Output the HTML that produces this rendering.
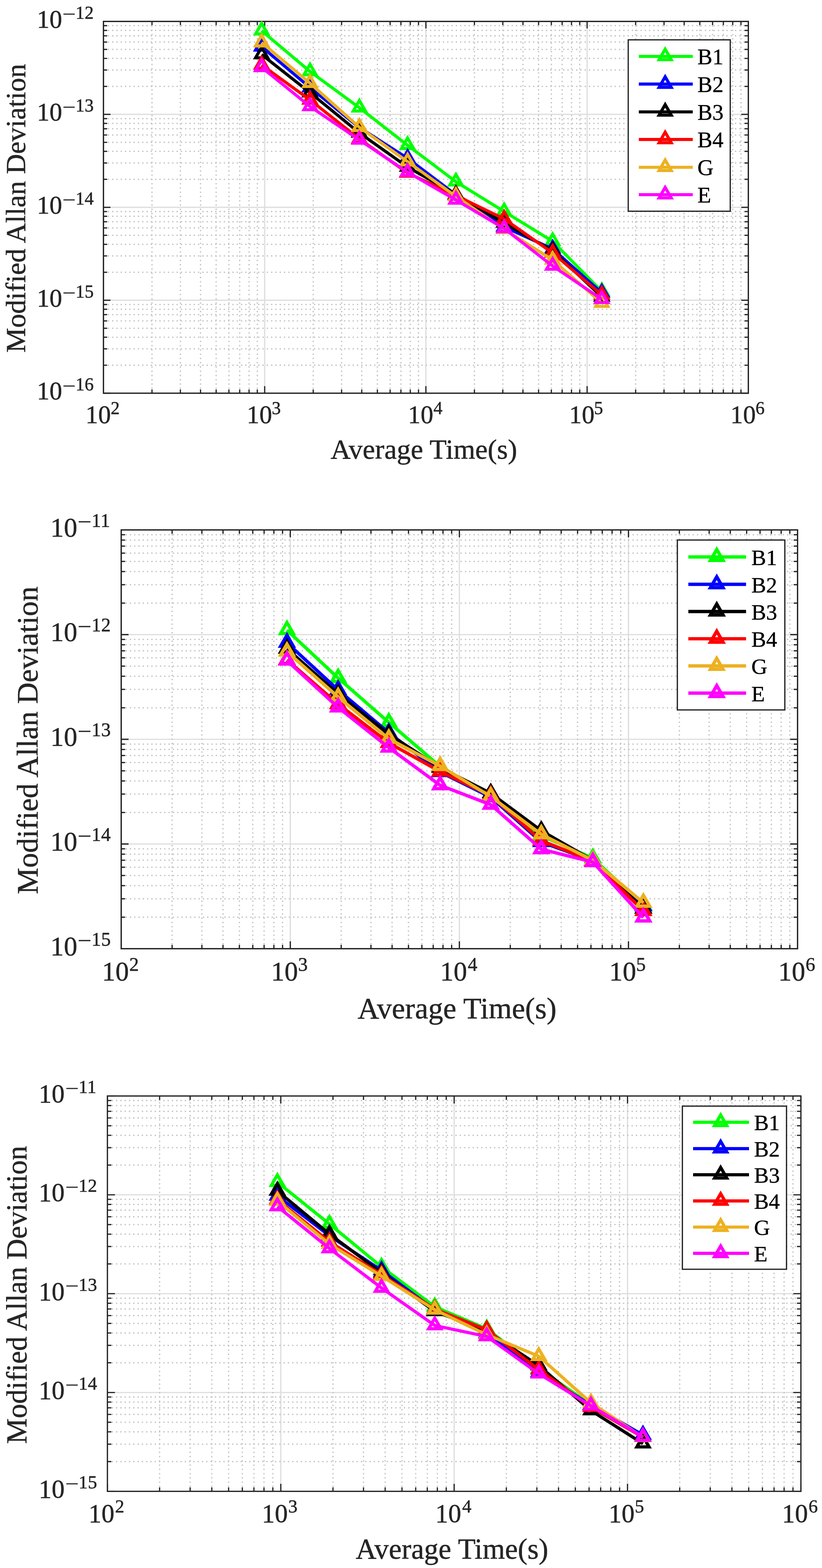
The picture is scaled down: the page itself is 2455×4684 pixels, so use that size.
<!DOCTYPE html>
<html><head><meta charset="utf-8"><title>Modified Allan Deviation</title>
<style>html,body{margin:0;padding:0;background:#fff;}svg{display:block;}</style>
</head><body>
<svg width="2455" height="4684" viewBox="0 0 2455 4684" font-family="'Liberation Serif', 'Times New Roman', serif" stroke-linejoin="miter" stroke-miterlimit="10">
<rect width="2455" height="4684" fill="#fff"/>
<path d="M790.5 1174.6V64M1272 1174.6V64M1753.5 1174.6V64M309 896.95H2235M309 619.3H2235M309 341.65H2235" stroke="#dedede" stroke-width="3.7" fill="none"/>
<path d="M453.95 1174.6V64M538.73 1174.6V64M598.89 1174.6V64M645.55 1174.6V64M683.68 1174.6V64M715.91 1174.6V64M743.84 1174.6V64M768.47 1174.6V64M935.45 1174.6V64M1020.23 1174.6V64M1080.39 1174.6V64M1127.05 1174.6V64M1165.18 1174.6V64M1197.41 1174.6V64M1225.34 1174.6V64M1249.97 1174.6V64M1416.95 1174.6V64M1501.73 1174.6V64M1561.89 1174.6V64M1608.55 1174.6V64M1646.68 1174.6V64M1678.91 1174.6V64M1706.84 1174.6V64M1731.47 1174.6V64M1898.45 1174.6V64M1983.23 1174.6V64M2043.39 1174.6V64M2090.05 1174.6V64M2128.18 1174.6V64M2160.41 1174.6V64M2188.34 1174.6V64M2212.97 1174.6V64" stroke="#c3c3c3" stroke-width="3.8" stroke-dasharray="3.9 8.83" fill="none"/>
<path d="M309 1091.02H2235M309 1042.13H2235M309 1007.44H2235M309 980.53H2235M309 958.55H2235M309 939.96H2235M309 923.86H2235M309 909.65H2235M309 813.37H2235M309 764.48H2235M309 729.79H2235M309 702.88H2235M309 680.9H2235M309 662.31H2235M309 646.21H2235M309 632H2235M309 535.72H2235M309 486.83H2235M309 452.14H2235M309 425.23H2235M309 403.25H2235M309 384.66H2235M309 368.56H2235M309 354.35H2235M309 258.07H2235M309 209.18H2235M309 174.49H2235M309 147.58H2235M309 125.6H2235M309 107.01H2235M309 90.91H2235M309 76.7H2235" stroke="#c3c3c3" stroke-width="3.8" stroke-dasharray="3.9 8.93" fill="none"/>
<path d="M309 1174.6v-21M309 64v21M790.5 1174.6v-21M790.5 64v21M1272 1174.6v-21M1272 64v21M1753.5 1174.6v-21M1753.5 64v21M2235 1174.6v-21M2235 64v21M453.95 1174.6v-11M453.95 64v11M538.73 1174.6v-11M538.73 64v11M598.89 1174.6v-11M598.89 64v11M645.55 1174.6v-11M645.55 64v11M683.68 1174.6v-11M683.68 64v11M715.91 1174.6v-11M715.91 64v11M743.84 1174.6v-11M743.84 64v11M768.47 1174.6v-11M768.47 64v11M935.45 1174.6v-11M935.45 64v11M1020.23 1174.6v-11M1020.23 64v11M1080.39 1174.6v-11M1080.39 64v11M1127.05 1174.6v-11M1127.05 64v11M1165.18 1174.6v-11M1165.18 64v11M1197.41 1174.6v-11M1197.41 64v11M1225.34 1174.6v-11M1225.34 64v11M1249.97 1174.6v-11M1249.97 64v11M1416.95 1174.6v-11M1416.95 64v11M1501.73 1174.6v-11M1501.73 64v11M1561.89 1174.6v-11M1561.89 64v11M1608.55 1174.6v-11M1608.55 64v11M1646.68 1174.6v-11M1646.68 64v11M1678.91 1174.6v-11M1678.91 64v11M1706.84 1174.6v-11M1706.84 64v11M1731.47 1174.6v-11M1731.47 64v11M1898.45 1174.6v-11M1898.45 64v11M1983.23 1174.6v-11M1983.23 64v11M2043.39 1174.6v-11M2043.39 64v11M2090.05 1174.6v-11M2090.05 64v11M2128.18 1174.6v-11M2128.18 64v11M2160.41 1174.6v-11M2160.41 64v11M2188.34 1174.6v-11M2188.34 64v11M2212.97 1174.6v-11M2212.97 64v11M309 1174.6h21M2235 1174.6h-21M309 896.95h21M2235 896.95h-21M309 619.3h21M2235 619.3h-21M309 341.65h21M2235 341.65h-21M309 64h21M2235 64h-21M309 1091.02h11M2235 1091.02h-11M309 1042.13h11M2235 1042.13h-11M309 1007.44h11M2235 1007.44h-11M309 980.53h11M2235 980.53h-11M309 958.55h11M2235 958.55h-11M309 939.96h11M2235 939.96h-11M309 923.86h11M2235 923.86h-11M309 909.65h11M2235 909.65h-11M309 813.37h11M2235 813.37h-11M309 764.48h11M2235 764.48h-11M309 729.79h11M2235 729.79h-11M309 702.88h11M2235 702.88h-11M309 680.9h11M2235 680.9h-11M309 662.31h11M2235 662.31h-11M309 646.21h11M2235 646.21h-11M309 632h11M2235 632h-11M309 535.72h11M2235 535.72h-11M309 486.83h11M2235 486.83h-11M309 452.14h11M2235 452.14h-11M309 425.23h11M2235 425.23h-11M309 403.25h11M2235 403.25h-11M309 384.66h11M2235 384.66h-11M309 368.56h11M2235 368.56h-11M309 354.35h11M2235 354.35h-11M309 258.07h11M2235 258.07h-11M309 209.18h11M2235 209.18h-11M309 174.49h11M2235 174.49h-11M309 147.58h11M2235 147.58h-11M309 125.6h11M2235 125.6h-11M309 107.01h11M2235 107.01h-11M309 90.91h11M2235 90.91h-11M309 76.7h11M2235 76.7h-11" stroke="#262626" stroke-width="3.7" fill="none"/>
<rect x="309" y="64" width="1926" height="1110.6" stroke="#262626" stroke-width="4" fill="none"/>
<g fill="#262626" stroke="#262626" stroke-width="0.8" stroke-linejoin="round"><text x="109.88" y="1193.4" font-size="75.8">10</text><text transform="translate(186.49 1170.76) scale(1.295 1)" font-size="54.2">&#8722;</text><text x="225.62" y="1166.3" font-size="54.2">16</text><text x="109.88" y="915.75" font-size="75.8">10</text><text transform="translate(186.49 893.11) scale(1.295 1)" font-size="54.2">&#8722;</text><text x="225.62" y="888.65" font-size="54.2">15</text><text x="109.88" y="638.1" font-size="75.8">10</text><text transform="translate(186.49 615.46) scale(1.295 1)" font-size="54.2">&#8722;</text><text x="225.62" y="611" font-size="54.2">14</text><text x="109.88" y="360.45" font-size="75.8">10</text><text transform="translate(186.49 337.81) scale(1.295 1)" font-size="54.2">&#8722;</text><text x="225.62" y="333.35" font-size="54.2">13</text><text x="109.88" y="82.8" font-size="75.8">10</text><text transform="translate(186.49 60.16) scale(1.295 1)" font-size="54.2">&#8722;</text><text x="225.62" y="55.7" font-size="54.2">12</text><text x="255.28" y="1264.3" font-size="75.8">10</text><text x="330.53" y="1237.1" font-size="54.2">2</text><text x="736.78" y="1264.3" font-size="75.8">10</text><text x="811.49" y="1237.1" font-size="54.2">3</text><text x="1218.28" y="1264.3" font-size="75.8">10</text><text x="1294.62" y="1237.1" font-size="54.2">4</text><text x="1699.78" y="1264.3" font-size="75.8">10</text><text x="1773.95" y="1237.1" font-size="54.2">5</text><text x="2181.28" y="1264.3" font-size="75.8">10</text><text x="2256.53" y="1237.1" font-size="54.2">6</text><text x="987.16" y="1369.6" font-size="83.5">Average Time(s)</text><text transform="translate(75 1053.41) rotate(-90)" font-size="83.5">Modified Allan Deviation</text></g>
<g stroke="#00ff00" stroke-width="9.1" fill="none"><polyline points="781.4,91.7 925.9,213.6 1073.3,321.8 1217.2,433.8 1361.6,542.9 1505.7,631.8 1650.5,720.9 1797.4,870.7"/><polygon points="781.4,69.93 763.18,101.48 799.62,101.48"/><polygon points="925.9,191.83 907.68,223.38 944.12,223.38"/><polygon points="1073.3,300.03 1055.08,331.58 1091.52,331.58"/><polygon points="1217.2,412.03 1198.98,443.58 1235.42,443.58"/><polygon points="1361.6,521.13 1343.38,552.68 1379.82,552.68"/><polygon points="1505.7,610.03 1487.48,641.58 1523.92,641.58"/><polygon points="1650.5,699.13 1632.28,730.68 1668.72,730.68"/><polygon points="1797.4,848.93 1779.18,880.48 1815.62,880.48"/></g>
<g stroke="#0000ff" stroke-width="9.1" fill="none"><polyline points="781.4,139.8 925.9,261.7 1073.3,381 1217.2,472.7 1361.6,582 1505.7,678 1650.5,743.5 1797.4,874.8"/><polygon points="781.4,118.03 763.18,149.58 799.62,149.58"/><polygon points="925.9,239.93 907.68,271.48 944.12,271.48"/><polygon points="1073.3,359.23 1055.08,390.78 1091.52,390.78"/><polygon points="1217.2,450.93 1198.98,482.48 1235.42,482.48"/><polygon points="1361.6,560.23 1343.38,591.78 1379.82,591.78"/><polygon points="1505.7,656.23 1487.48,687.78 1523.92,687.78"/><polygon points="1650.5,721.73 1632.28,753.28 1668.72,753.28"/><polygon points="1797.4,853.03 1779.18,884.58 1815.62,884.58"/></g>
<g stroke="#000000" stroke-width="9.1" fill="none"><polyline points="781.4,162.9 925.9,276.8 1073.3,397 1217.2,499 1361.6,581 1505.7,666 1650.5,749.5 1797.4,886.8"/><polygon points="781.4,141.13 763.18,172.68 799.62,172.68"/><polygon points="925.9,255.03 907.68,286.58 944.12,286.58"/><polygon points="1073.3,375.23 1055.08,406.78 1091.52,406.78"/><polygon points="1217.2,477.23 1198.98,508.78 1235.42,508.78"/><polygon points="1361.6,559.23 1343.38,590.78 1379.82,590.78"/><polygon points="1505.7,644.23 1487.48,675.78 1523.92,675.78"/><polygon points="1650.5,727.73 1632.28,759.28 1668.72,759.28"/><polygon points="1797.4,865.03 1779.18,896.58 1815.62,896.58"/></g>
<g stroke="#ff0000" stroke-width="9.1" fill="none"><polyline points="781.4,194 925.9,298.5 1073.3,415 1217.2,516.7 1361.6,584 1505.7,654 1650.5,755.5 1797.4,881"/><polygon points="781.4,172.23 763.18,203.78 799.62,203.78"/><polygon points="925.9,276.73 907.68,308.28 944.12,308.28"/><polygon points="1073.3,393.23 1055.08,424.78 1091.52,424.78"/><polygon points="1217.2,494.93 1198.98,526.48 1235.42,526.48"/><polygon points="1361.6,562.23 1343.38,593.78 1379.82,593.78"/><polygon points="1505.7,632.23 1487.48,663.78 1523.92,663.78"/><polygon points="1650.5,733.73 1632.28,765.28 1668.72,765.28"/><polygon points="1797.4,859.23 1779.18,890.78 1815.62,890.78"/></g>
<g stroke="#edb120" stroke-width="9.1" fill="none"><polyline points="781.4,127.3 925.9,248.6 1073.3,380.2 1217.2,482.9 1361.6,586.6 1505.7,685 1650.5,776.3 1797.4,905.5"/><polygon points="781.4,105.53 763.18,137.08 799.62,137.08"/><polygon points="925.9,226.83 907.68,258.38 944.12,258.38"/><polygon points="1073.3,358.43 1055.08,389.98 1091.52,389.98"/><polygon points="1217.2,461.13 1198.98,492.68 1235.42,492.68"/><polygon points="1361.6,564.83 1343.38,596.38 1379.82,596.38"/><polygon points="1505.7,663.23 1487.48,694.78 1523.92,694.78"/><polygon points="1650.5,754.53 1632.28,786.08 1668.72,786.08"/><polygon points="1797.4,883.73 1779.18,915.28 1815.62,915.28"/></g>
<g stroke="#ff00ff" stroke-width="9.1" fill="none"><polyline points="781.4,201.2 925.9,318 1073.3,418 1217.2,514.4 1361.6,597.2 1505.7,682.5 1650.5,794.5 1797.4,894"/><polygon points="781.4,179.43 763.18,210.98 799.62,210.98"/><polygon points="925.9,296.23 907.68,327.78 944.12,327.78"/><polygon points="1073.3,396.23 1055.08,427.78 1091.52,427.78"/><polygon points="1217.2,492.63 1198.98,524.18 1235.42,524.18"/><polygon points="1361.6,575.43 1343.38,606.98 1379.82,606.98"/><polygon points="1505.7,660.73 1487.48,692.28 1523.92,692.28"/><polygon points="1650.5,772.73 1632.28,804.28 1668.72,804.28"/><polygon points="1797.4,872.23 1779.18,903.78 1815.62,903.78"/></g>
<rect x="1876.3" y="119" width="304.7" height="512" fill="#fff" stroke="#262626" stroke-width="3.8"/>
<g stroke="#00ff00" stroke-width="9.1" fill="none"><path d="M1907.9 168.5H2069"/><polygon points="1986.6,146.73 1968.38,178.28 2004.82,178.28"/></g>
<text x="2083" y="191.9" font-size="66.7" fill="#000" stroke="#000" stroke-width="0.6" stroke-linejoin="round">B1</text>
<g stroke="#0000ff" stroke-width="9.1" fill="none"><path d="M1907.9 251.1H2069"/><polygon points="1986.6,229.33 1968.38,260.88 2004.82,260.88"/></g>
<text x="2083" y="274.5" font-size="66.7" fill="#000" stroke="#000" stroke-width="0.6" stroke-linejoin="round">B2</text>
<g stroke="#000000" stroke-width="9.1" fill="none"><path d="M1907.9 334.2H2069"/><polygon points="1986.6,312.43 1968.38,343.98 2004.82,343.98"/></g>
<text x="2083" y="357.6" font-size="66.7" fill="#000" stroke="#000" stroke-width="0.6" stroke-linejoin="round">B3</text>
<g stroke="#ff0000" stroke-width="9.1" fill="none"><path d="M1907.9 416.6H2069"/><polygon points="1986.6,394.83 1968.38,426.38 2004.82,426.38"/></g>
<text x="2083" y="440" font-size="66.7" fill="#000" stroke="#000" stroke-width="0.6" stroke-linejoin="round">B4</text>
<g stroke="#edb120" stroke-width="9.1" fill="none"><path d="M1907.9 499.7H2069"/><polygon points="1986.6,477.93 1968.38,509.48 2004.82,509.48"/></g>
<text x="2083" y="523.1" font-size="66.7" fill="#000" stroke="#000" stroke-width="0.6" stroke-linejoin="round">G</text>
<g stroke="#ff00ff" stroke-width="9.1" fill="none"><path d="M1907.9 581.5H2069"/><polygon points="1986.6,559.73 1968.38,591.28 2004.82,591.28"/></g>
<text x="2083" y="604.9" font-size="66.7" fill="#000" stroke="#000" stroke-width="0.6" stroke-linejoin="round">E</text>
<path d="M867 2834V1583M1372 2834V1583M1877 2834V1583M362 2521.25H2382M362 2208.5H2382M362 1895.75H2382" stroke="#dedede" stroke-width="3.7" fill="none"/>
<path d="M514.02 2834V1583M602.95 2834V1583M666.04 2834V1583M714.98 2834V1583M754.97 2834V1583M788.77 2834V1583M818.06 2834V1583M843.89 2834V1583M1019.02 2834V1583M1107.95 2834V1583M1171.04 2834V1583M1219.98 2834V1583M1259.97 2834V1583M1293.77 2834V1583M1323.06 2834V1583M1348.89 2834V1583M1524.02 2834V1583M1612.95 2834V1583M1676.04 2834V1583M1724.98 2834V1583M1764.97 2834V1583M1798.77 2834V1583M1828.06 2834V1583M1853.89 2834V1583M2029.02 2834V1583M2117.95 2834V1583M2181.04 2834V1583M2229.98 2834V1583M2269.97 2834V1583M2303.77 2834V1583M2333.06 2834V1583M2358.89 2834V1583" stroke="#c3c3c3" stroke-width="3.8" stroke-dasharray="3.9 8.83" fill="none"/>
<path d="M362 2739.85H2382M362 2684.78H2382M362 2645.71H2382M362 2615.4H2382M362 2590.63H2382M362 2569.7H2382M362 2551.56H2382M362 2535.56H2382M362 2427.1H2382M362 2372.03H2382M362 2332.96H2382M362 2302.65H2382M362 2277.88H2382M362 2256.95H2382M362 2238.81H2382M362 2222.81H2382M362 2114.35H2382M362 2059.28H2382M362 2020.21H2382M362 1989.9H2382M362 1965.13H2382M362 1944.2H2382M362 1926.06H2382M362 1910.06H2382M362 1801.6H2382M362 1746.53H2382M362 1707.46H2382M362 1677.15H2382M362 1652.38H2382M362 1631.45H2382M362 1613.31H2382M362 1597.31H2382" stroke="#c3c3c3" stroke-width="3.8" stroke-dasharray="3.9 8.93" fill="none"/>
<path d="M362 2834v-22M362 1583v22M867 2834v-22M867 1583v22M1372 2834v-22M1372 1583v22M1877 2834v-22M1877 1583v22M2382 2834v-22M2382 1583v22M514.02 2834v-11.5M514.02 1583v11.5M602.95 2834v-11.5M602.95 1583v11.5M666.04 2834v-11.5M666.04 1583v11.5M714.98 2834v-11.5M714.98 1583v11.5M754.97 2834v-11.5M754.97 1583v11.5M788.77 2834v-11.5M788.77 1583v11.5M818.06 2834v-11.5M818.06 1583v11.5M843.89 2834v-11.5M843.89 1583v11.5M1019.02 2834v-11.5M1019.02 1583v11.5M1107.95 2834v-11.5M1107.95 1583v11.5M1171.04 2834v-11.5M1171.04 1583v11.5M1219.98 2834v-11.5M1219.98 1583v11.5M1259.97 2834v-11.5M1259.97 1583v11.5M1293.77 2834v-11.5M1293.77 1583v11.5M1323.06 2834v-11.5M1323.06 1583v11.5M1348.89 2834v-11.5M1348.89 1583v11.5M1524.02 2834v-11.5M1524.02 1583v11.5M1612.95 2834v-11.5M1612.95 1583v11.5M1676.04 2834v-11.5M1676.04 1583v11.5M1724.98 2834v-11.5M1724.98 1583v11.5M1764.97 2834v-11.5M1764.97 1583v11.5M1798.77 2834v-11.5M1798.77 1583v11.5M1828.06 2834v-11.5M1828.06 1583v11.5M1853.89 2834v-11.5M1853.89 1583v11.5M2029.02 2834v-11.5M2029.02 1583v11.5M2117.95 2834v-11.5M2117.95 1583v11.5M2181.04 2834v-11.5M2181.04 1583v11.5M2229.98 2834v-11.5M2229.98 1583v11.5M2269.97 2834v-11.5M2269.97 1583v11.5M2303.77 2834v-11.5M2303.77 1583v11.5M2333.06 2834v-11.5M2333.06 1583v11.5M2358.89 2834v-11.5M2358.89 1583v11.5M362 2834h22M2382 2834h-22M362 2521.25h22M2382 2521.25h-22M362 2208.5h22M2382 2208.5h-22M362 1895.75h22M2382 1895.75h-22M362 1583h22M2382 1583h-22M362 2739.85h11.5M2382 2739.85h-11.5M362 2684.78h11.5M2382 2684.78h-11.5M362 2645.71h11.5M2382 2645.71h-11.5M362 2615.4h11.5M2382 2615.4h-11.5M362 2590.63h11.5M2382 2590.63h-11.5M362 2569.7h11.5M2382 2569.7h-11.5M362 2551.56h11.5M2382 2551.56h-11.5M362 2535.56h11.5M2382 2535.56h-11.5M362 2427.1h11.5M2382 2427.1h-11.5M362 2372.03h11.5M2382 2372.03h-11.5M362 2332.96h11.5M2382 2332.96h-11.5M362 2302.65h11.5M2382 2302.65h-11.5M362 2277.88h11.5M2382 2277.88h-11.5M362 2256.95h11.5M2382 2256.95h-11.5M362 2238.81h11.5M2382 2238.81h-11.5M362 2222.81h11.5M2382 2222.81h-11.5M362 2114.35h11.5M2382 2114.35h-11.5M362 2059.28h11.5M2382 2059.28h-11.5M362 2020.21h11.5M2382 2020.21h-11.5M362 1989.9h11.5M2382 1989.9h-11.5M362 1965.13h11.5M2382 1965.13h-11.5M362 1944.2h11.5M2382 1944.2h-11.5M362 1926.06h11.5M2382 1926.06h-11.5M362 1910.06h11.5M2382 1910.06h-11.5M362 1801.6h11.5M2382 1801.6h-11.5M362 1746.53h11.5M2382 1746.53h-11.5M362 1707.46h11.5M2382 1707.46h-11.5M362 1677.15h11.5M2382 1677.15h-11.5M362 1652.38h11.5M2382 1652.38h-11.5M362 1631.45h11.5M2382 1631.45h-11.5M362 1613.31h11.5M2382 1613.31h-11.5M362 1597.31h11.5M2382 1597.31h-11.5" stroke="#262626" stroke-width="3.8" fill="none"/>
<rect x="362" y="1583" width="2020" height="1251" stroke="#262626" stroke-width="4" fill="none"/>
<g fill="#262626" stroke="#262626" stroke-width="0.8" stroke-linejoin="round"><text x="150.46" y="2853.5" font-size="80.4">10</text><text transform="translate(231.83 2829.26) scale(1.277 1)" font-size="57.5">&#8722;</text><text x="273.32" y="2824.7" font-size="57.5">15</text><text x="150.46" y="2540.75" font-size="80.4">10</text><text transform="translate(231.83 2516.51) scale(1.277 1)" font-size="57.5">&#8722;</text><text x="273.32" y="2511.95" font-size="57.5">14</text><text x="150.46" y="2228" font-size="80.4">10</text><text transform="translate(231.83 2203.76) scale(1.277 1)" font-size="57.5">&#8722;</text><text x="273.32" y="2199.2" font-size="57.5">13</text><text x="150.46" y="1915.25" font-size="80.4">10</text><text transform="translate(231.83 1891.01) scale(1.277 1)" font-size="57.5">&#8722;</text><text x="273.32" y="1886.45" font-size="57.5">12</text><text x="150.46" y="1602.5" font-size="80.4">10</text><text transform="translate(231.83 1578.26) scale(1.277 1)" font-size="57.5">&#8722;</text><text x="273.32" y="1573.7" font-size="57.5">11</text><text x="304.46" y="2929.3" font-size="80.4">10</text><text x="385.9" y="2900" font-size="57.5">2</text><text x="809.46" y="2929.3" font-size="80.4">10</text><text x="890.33" y="2900" font-size="57.5">3</text><text x="1314.46" y="2929.3" font-size="80.4">10</text><text x="1397.05" y="2900" font-size="57.5">4</text><text x="1819.46" y="2929.3" font-size="80.4">10</text><text x="1899.75" y="2900" font-size="57.5">5</text><text x="2324.46" y="2929.3" font-size="80.4">10</text><text x="2405.9" y="2900" font-size="57.5">6</text><text x="1068.11" y="3041.7" font-size="89">Average Time(s)</text><text transform="translate(111.9 2671.37) rotate(-90)" font-size="89">Modified Allan Deviation</text></g>
<g stroke="#00ff00" stroke-width="9.9" fill="none"><polyline points="857,1882.3 1009.8,2025.6 1161.2,2158 1314.5,2289.8 1465.7,2381.3 1616.6,2496.3 1770.5,2563.7 1921.5,2704.3"/><polygon points="857,1859.7 838.09,1892.45 875.91,1892.45"/><polygon points="1009.8,2003 990.89,2035.75 1028.71,2035.75"/><polygon points="1161.2,2135.4 1142.29,2168.15 1180.11,2168.15"/><polygon points="1314.5,2267.2 1295.59,2299.95 1333.41,2299.95"/><polygon points="1465.7,2358.7 1446.79,2391.45 1484.61,2391.45"/><polygon points="1616.6,2473.7 1597.69,2506.45 1635.51,2506.45"/><polygon points="1770.5,2541.1 1751.59,2573.85 1789.41,2573.85"/><polygon points="1921.5,2681.7 1902.59,2714.45 1940.41,2714.45"/></g>
<g stroke="#0000ff" stroke-width="9.9" fill="none"><polyline points="857,1920.1 1009.8,2061.2 1161.2,2189.1 1314.5,2306.3 1465.7,2381.3 1616.6,2515.3 1770.5,2571.3 1921.5,2707.3"/><polygon points="857,1897.5 838.09,1930.25 875.91,1930.25"/><polygon points="1009.8,2038.6 990.89,2071.35 1028.71,2071.35"/><polygon points="1161.2,2166.5 1142.29,2199.25 1180.11,2199.25"/><polygon points="1314.5,2283.7 1295.59,2316.45 1333.41,2316.45"/><polygon points="1465.7,2358.7 1446.79,2391.45 1484.61,2391.45"/><polygon points="1616.6,2492.7 1597.69,2525.45 1635.51,2525.45"/><polygon points="1770.5,2548.7 1751.59,2581.45 1789.41,2581.45"/><polygon points="1921.5,2684.7 1902.59,2717.45 1940.41,2717.45"/></g>
<g stroke="#000000" stroke-width="9.9" fill="none"><polyline points="857,1937.9 1009.8,2073.3 1161.2,2193.3 1314.5,2293.3 1465.7,2369.9 1616.6,2481.8 1770.5,2570.3 1921.5,2714.3"/><polygon points="857,1915.3 838.09,1948.05 875.91,1948.05"/><polygon points="1009.8,2050.7 990.89,2083.45 1028.71,2083.45"/><polygon points="1161.2,2170.7 1142.29,2203.45 1180.11,2203.45"/><polygon points="1314.5,2270.7 1295.59,2303.45 1333.41,2303.45"/><polygon points="1465.7,2347.3 1446.79,2380.05 1484.61,2380.05"/><polygon points="1616.6,2459.2 1597.69,2491.95 1635.51,2491.95"/><polygon points="1770.5,2547.7 1751.59,2580.45 1789.41,2580.45"/><polygon points="1921.5,2691.7 1902.59,2724.45 1940.41,2724.45"/></g>
<g stroke="#ff0000" stroke-width="9.9" fill="none"><polyline points="857,1971.3 1009.8,2103.3 1161.2,2219.3 1314.5,2304.8 1465.7,2376.3 1616.6,2511.3 1770.5,2572.3 1921.5,2721.3"/><polygon points="857,1948.7 838.09,1981.45 875.91,1981.45"/><polygon points="1009.8,2080.7 990.89,2113.45 1028.71,2113.45"/><polygon points="1161.2,2196.7 1142.29,2229.45 1180.11,2229.45"/><polygon points="1314.5,2282.2 1295.59,2314.95 1333.41,2314.95"/><polygon points="1465.7,2353.7 1446.79,2386.45 1484.61,2386.45"/><polygon points="1616.6,2488.7 1597.69,2521.45 1635.51,2521.45"/><polygon points="1770.5,2549.7 1751.59,2582.45 1789.41,2582.45"/><polygon points="1921.5,2698.7 1902.59,2731.45 1940.41,2731.45"/></g>
<g stroke="#edb120" stroke-width="9.9" fill="none"><polyline points="857,1946.7 1009.8,2082.3 1161.2,2206.8 1314.5,2288.3 1465.7,2379.3 1616.6,2492.3 1770.5,2569.9 1921.5,2696.8"/><polygon points="857,1924.1 838.09,1956.85 875.91,1956.85"/><polygon points="1009.8,2059.7 990.89,2092.45 1028.71,2092.45"/><polygon points="1161.2,2184.2 1142.29,2216.95 1180.11,2216.95"/><polygon points="1314.5,2265.7 1295.59,2298.45 1333.41,2298.45"/><polygon points="1465.7,2356.7 1446.79,2389.45 1484.61,2389.45"/><polygon points="1616.6,2469.7 1597.69,2502.45 1635.51,2502.45"/><polygon points="1770.5,2547.3 1751.59,2580.05 1789.41,2580.05"/><polygon points="1921.5,2674.2 1902.59,2706.95 1940.41,2706.95"/></g>
<g stroke="#ff00ff" stroke-width="9.9" fill="none"><polyline points="857,1973.3 1009.8,2113.3 1161.2,2233.3 1314.5,2345.8 1465.7,2403.8 1616.6,2536.8 1770.5,2575.3 1921.5,2740.8"/><polygon points="857,1950.7 838.09,1983.45 875.91,1983.45"/><polygon points="1009.8,2090.7 990.89,2123.45 1028.71,2123.45"/><polygon points="1161.2,2210.7 1142.29,2243.45 1180.11,2243.45"/><polygon points="1314.5,2323.2 1295.59,2355.95 1333.41,2355.95"/><polygon points="1465.7,2381.2 1446.79,2413.95 1484.61,2413.95"/><polygon points="1616.6,2514.2 1597.69,2546.95 1635.51,2546.95"/><polygon points="1770.5,2552.7 1751.59,2585.45 1789.41,2585.45"/><polygon points="1921.5,2718.2 1902.59,2750.95 1940.41,2750.95"/></g>
<rect x="2023" y="1613.2" width="321" height="507.5" fill="#fff" stroke="#262626" stroke-width="3.8"/>
<g stroke="#00ff00" stroke-width="9.9" fill="none"><path d="M2055.8 1663.8H2228.2"/><polygon points="2140.6,1641.2 2121.69,1673.95 2159.51,1673.95"/></g>
<text x="2244.02" y="1688" font-size="66" fill="#000" stroke="#000" stroke-width="0.6" stroke-linejoin="round">B1</text>
<g stroke="#0000ff" stroke-width="9.9" fill="none"><path d="M2055.8 1745.5H2228.2"/><polygon points="2140.6,1722.9 2121.69,1755.65 2159.51,1755.65"/></g>
<text x="2244.02" y="1769.7" font-size="66" fill="#000" stroke="#000" stroke-width="0.6" stroke-linejoin="round">B2</text>
<g stroke="#000000" stroke-width="9.9" fill="none"><path d="M2055.8 1826.8H2228.2"/><polygon points="2140.6,1804.2 2121.69,1836.95 2159.51,1836.95"/></g>
<text x="2244.02" y="1851" font-size="66" fill="#000" stroke="#000" stroke-width="0.6" stroke-linejoin="round">B3</text>
<g stroke="#ff0000" stroke-width="9.9" fill="none"><path d="M2055.8 1908.1H2228.2"/><polygon points="2140.6,1885.5 2121.69,1918.25 2159.51,1918.25"/></g>
<text x="2244.02" y="1932.3" font-size="66" fill="#000" stroke="#000" stroke-width="0.6" stroke-linejoin="round">B4</text>
<g stroke="#edb120" stroke-width="9.9" fill="none"><path d="M2055.8 1989.2H2228.2"/><polygon points="2140.6,1966.6 2121.69,1999.35 2159.51,1999.35"/></g>
<text x="2244.02" y="2013.4" font-size="66" fill="#000" stroke="#000" stroke-width="0.6" stroke-linejoin="round">G</text>
<g stroke="#ff00ff" stroke-width="9.9" fill="none"><path d="M2055.8 2070.5H2228.2"/><polygon points="2140.6,2047.9 2121.69,2080.65 2159.51,2080.65"/></g>
<text x="2244.02" y="2094.7" font-size="66" fill="#000" stroke="#000" stroke-width="0.6" stroke-linejoin="round">E</text>
<path d="M838.6 4455V3274M1356.4 4455V3274M1874.2 4455V3274M320.8 4159.75H2392M320.8 3864.5H2392M320.8 3569.25H2392" stroke="#dedede" stroke-width="3.7" fill="none"/>
<path d="M476.67 4455V3274M567.85 4455V3274M632.55 4455V3274M682.73 4455V3274M723.73 4455V3274M758.39 4455V3274M788.42 4455V3274M814.91 4455V3274M994.47 4455V3274M1085.65 4455V3274M1150.35 4455V3274M1200.53 4455V3274M1241.53 4455V3274M1276.19 4455V3274M1306.22 4455V3274M1332.71 4455V3274M1512.27 4455V3274M1603.45 4455V3274M1668.15 4455V3274M1718.33 4455V3274M1759.33 4455V3274M1793.99 4455V3274M1824.02 4455V3274M1850.51 4455V3274M2030.07 4455V3274M2121.25 4455V3274M2185.95 4455V3274M2236.13 4455V3274M2277.13 4455V3274M2311.79 4455V3274M2341.82 4455V3274M2368.31 4455V3274" stroke="#c3c3c3" stroke-width="3.8" stroke-dasharray="3.9 8.83" fill="none"/>
<path d="M320.8 4366.12H2392M320.8 4314.13H2392M320.8 4277.24H2392M320.8 4248.63H2392M320.8 4225.25H2392M320.8 4205.48H2392M320.8 4188.36H2392M320.8 4173.26H2392M320.8 4070.87H2392M320.8 4018.88H2392M320.8 3981.99H2392M320.8 3953.38H2392M320.8 3930H2392M320.8 3910.23H2392M320.8 3893.11H2392M320.8 3878.01H2392M320.8 3775.62H2392M320.8 3723.63H2392M320.8 3686.74H2392M320.8 3658.13H2392M320.8 3634.75H2392M320.8 3614.98H2392M320.8 3597.86H2392M320.8 3582.76H2392M320.8 3480.37H2392M320.8 3428.38H2392M320.8 3391.49H2392M320.8 3362.88H2392M320.8 3339.5H2392M320.8 3319.73H2392M320.8 3302.61H2392M320.8 3287.51H2392" stroke="#c3c3c3" stroke-width="3.8" stroke-dasharray="3.9 8.93" fill="none"/>
<path d="M320.8 4455v-22.5M320.8 3274v22.5M838.6 4455v-22.5M838.6 3274v22.5M1356.4 4455v-22.5M1356.4 3274v22.5M1874.2 4455v-22.5M1874.2 3274v22.5M2392 4455v-22.5M2392 3274v22.5M476.67 4455v-11.8M476.67 3274v11.8M567.85 4455v-11.8M567.85 3274v11.8M632.55 4455v-11.8M632.55 3274v11.8M682.73 4455v-11.8M682.73 3274v11.8M723.73 4455v-11.8M723.73 3274v11.8M758.39 4455v-11.8M758.39 3274v11.8M788.42 4455v-11.8M788.42 3274v11.8M814.91 4455v-11.8M814.91 3274v11.8M994.47 4455v-11.8M994.47 3274v11.8M1085.65 4455v-11.8M1085.65 3274v11.8M1150.35 4455v-11.8M1150.35 3274v11.8M1200.53 4455v-11.8M1200.53 3274v11.8M1241.53 4455v-11.8M1241.53 3274v11.8M1276.19 4455v-11.8M1276.19 3274v11.8M1306.22 4455v-11.8M1306.22 3274v11.8M1332.71 4455v-11.8M1332.71 3274v11.8M1512.27 4455v-11.8M1512.27 3274v11.8M1603.45 4455v-11.8M1603.45 3274v11.8M1668.15 4455v-11.8M1668.15 3274v11.8M1718.33 4455v-11.8M1718.33 3274v11.8M1759.33 4455v-11.8M1759.33 3274v11.8M1793.99 4455v-11.8M1793.99 3274v11.8M1824.02 4455v-11.8M1824.02 3274v11.8M1850.51 4455v-11.8M1850.51 3274v11.8M2030.07 4455v-11.8M2030.07 3274v11.8M2121.25 4455v-11.8M2121.25 3274v11.8M2185.95 4455v-11.8M2185.95 3274v11.8M2236.13 4455v-11.8M2236.13 3274v11.8M2277.13 4455v-11.8M2277.13 3274v11.8M2311.79 4455v-11.8M2311.79 3274v11.8M2341.82 4455v-11.8M2341.82 3274v11.8M2368.31 4455v-11.8M2368.31 3274v11.8M320.8 4455h22.5M2392 4455h-22.5M320.8 4159.75h22.5M2392 4159.75h-22.5M320.8 3864.5h22.5M2392 3864.5h-22.5M320.8 3569.25h22.5M2392 3569.25h-22.5M320.8 3274h22.5M2392 3274h-22.5M320.8 4366.12h11.8M2392 4366.12h-11.8M320.8 4314.13h11.8M2392 4314.13h-11.8M320.8 4277.24h11.8M2392 4277.24h-11.8M320.8 4248.63h11.8M2392 4248.63h-11.8M320.8 4225.25h11.8M2392 4225.25h-11.8M320.8 4205.48h11.8M2392 4205.48h-11.8M320.8 4188.36h11.8M2392 4188.36h-11.8M320.8 4173.26h11.8M2392 4173.26h-11.8M320.8 4070.87h11.8M2392 4070.87h-11.8M320.8 4018.88h11.8M2392 4018.88h-11.8M320.8 3981.99h11.8M2392 3981.99h-11.8M320.8 3953.38h11.8M2392 3953.38h-11.8M320.8 3930h11.8M2392 3930h-11.8M320.8 3910.23h11.8M2392 3910.23h-11.8M320.8 3893.11h11.8M2392 3893.11h-11.8M320.8 3878.01h11.8M2392 3878.01h-11.8M320.8 3775.62h11.8M2392 3775.62h-11.8M320.8 3723.63h11.8M2392 3723.63h-11.8M320.8 3686.74h11.8M2392 3686.74h-11.8M320.8 3658.13h11.8M2392 3658.13h-11.8M320.8 3634.75h11.8M2392 3634.75h-11.8M320.8 3614.98h11.8M2392 3614.98h-11.8M320.8 3597.86h11.8M2392 3597.86h-11.8M320.8 3582.76h11.8M2392 3582.76h-11.8M320.8 3480.37h11.8M2392 3480.37h-11.8M320.8 3428.38h11.8M2392 3428.38h-11.8M320.8 3391.49h11.8M2392 3391.49h-11.8M320.8 3362.88h11.8M2392 3362.88h-11.8M320.8 3339.5h11.8M2392 3339.5h-11.8M320.8 3319.73h11.8M2392 3319.73h-11.8M320.8 3302.61h11.8M2392 3302.61h-11.8M320.8 3287.51h11.8M2392 3287.51h-11.8" stroke="#262626" stroke-width="3.7" fill="none"/>
<rect x="320.8" y="3274" width="2071.2" height="1181" stroke="#262626" stroke-width="3.8" fill="none"/>
<g fill="#262626" stroke="#262626" stroke-width="0.8" stroke-linejoin="round"><text x="115.62" y="4474.1" font-size="77.5">10</text><text transform="translate(194.95 4450.99) scale(1.280 1)" font-size="55.5">&#8722;</text><text x="234.6" y="4446.2" font-size="55.5">15</text><text x="115.62" y="4178.85" font-size="77.5">10</text><text transform="translate(194.95 4155.74) scale(1.280 1)" font-size="55.5">&#8722;</text><text x="234.6" y="4150.95" font-size="55.5">14</text><text x="115.62" y="3883.6" font-size="77.5">10</text><text transform="translate(194.95 3860.49) scale(1.280 1)" font-size="55.5">&#8722;</text><text x="234.6" y="3855.7" font-size="55.5">13</text><text x="115.62" y="3588.35" font-size="77.5">10</text><text transform="translate(194.95 3565.24) scale(1.280 1)" font-size="55.5">&#8722;</text><text x="234.6" y="3560.45" font-size="55.5">12</text><text x="115.62" y="3293.1" font-size="77.5">10</text><text transform="translate(194.95 3269.99) scale(1.280 1)" font-size="55.5">&#8722;</text><text x="234.6" y="3265.2" font-size="55.5">11</text><text x="264.32" y="4546.7" font-size="77.5">10</text><text x="343.48" y="4517.9" font-size="55.5">2</text><text x="782.12" y="4546.7" font-size="77.5">10</text><text x="860.72" y="4517.9" font-size="55.5">3</text><text x="1299.92" y="4546.7" font-size="77.5">10</text><text x="1380.19" y="4517.9" font-size="55.5">4</text><text x="1817.72" y="4546.7" font-size="77.5">10</text><text x="1895.77" y="4517.9" font-size="55.5">5</text><text x="2335.53" y="4546.7" font-size="77.5">10</text><text x="2414.68" y="4517.9" font-size="55.5">6</text><text x="1062.24" y="4655.9" font-size="86.2">Average Time(s)</text><text transform="translate(78.9 4313.29) rotate(-90)" font-size="86.2">Modified Allan Deviation</text></g>
<g stroke="#00ff00" stroke-width="9.45" fill="none"><polyline points="828.4,3531.5 983.9,3656.5 1139.5,3784.5 1298.5,3903.5 1453.7,3969.5 1609.2,4088.5 1764.9,4196.5 1920.3,4289.5"/><polygon points="828.4,3509.66 810.13,3541.31 846.67,3541.31"/><polygon points="983.9,3634.66 965.63,3666.31 1002.17,3666.31"/><polygon points="1139.5,3762.66 1121.23,3794.31 1157.77,3794.31"/><polygon points="1298.5,3881.66 1280.23,3913.31 1316.77,3913.31"/><polygon points="1453.7,3947.66 1435.43,3979.31 1471.97,3979.31"/><polygon points="1609.2,4066.66 1590.93,4098.31 1627.47,4098.31"/><polygon points="1764.9,4174.66 1746.63,4206.31 1783.17,4206.31"/><polygon points="1920.3,4267.66 1902.03,4299.31 1938.57,4299.31"/></g>
<g stroke="#0000ff" stroke-width="9.45" fill="none"><polyline points="828.4,3572.5 983.9,3691.5 1139.5,3795 1298.5,3913.5 1453.7,3983.5 1609.2,4099.5 1764.9,4197.5 1920.3,4286.5"/><polygon points="828.4,3550.66 810.13,3582.31 846.67,3582.31"/><polygon points="983.9,3669.66 965.63,3701.31 1002.17,3701.31"/><polygon points="1139.5,3773.16 1121.23,3804.81 1157.77,3804.81"/><polygon points="1298.5,3891.66 1280.23,3923.31 1316.77,3923.31"/><polygon points="1453.7,3961.66 1435.43,3993.31 1471.97,3993.31"/><polygon points="1609.2,4077.66 1590.93,4109.31 1627.47,4109.31"/><polygon points="1764.9,4175.66 1746.63,4207.31 1783.17,4207.31"/><polygon points="1920.3,4264.66 1902.03,4296.31 1938.57,4296.31"/></g>
<g stroke="#000000" stroke-width="9.45" fill="none"><polyline points="828.4,3557.5 983.9,3686.5 1139.5,3802 1298.5,3917.3 1453.7,3976.5 1609.2,4079.5 1764.9,4213.5 1920.3,4312.5"/><polygon points="828.4,3535.66 810.13,3567.31 846.67,3567.31"/><polygon points="983.9,3664.66 965.63,3696.31 1002.17,3696.31"/><polygon points="1139.5,3780.16 1121.23,3811.81 1157.77,3811.81"/><polygon points="1298.5,3895.46 1280.23,3927.11 1316.77,3927.11"/><polygon points="1453.7,3954.66 1435.43,3986.31 1471.97,3986.31"/><polygon points="1609.2,4057.66 1590.93,4089.31 1627.47,4089.31"/><polygon points="1764.9,4191.66 1746.63,4223.31 1783.17,4223.31"/><polygon points="1920.3,4290.66 1902.03,4322.31 1938.57,4322.31"/></g>
<g stroke="#ff0000" stroke-width="9.45" fill="none"><polyline points="828.4,3584 983.9,3709.5 1139.5,3807.5 1298.5,3910.7 1453.7,3972.5 1609.2,4091.5 1764.9,4203.5 1920.3,4293.5"/><polygon points="828.4,3562.16 810.13,3593.81 846.67,3593.81"/><polygon points="983.9,3687.66 965.63,3719.31 1002.17,3719.31"/><polygon points="1139.5,3785.66 1121.23,3817.31 1157.77,3817.31"/><polygon points="1298.5,3888.86 1280.23,3920.51 1316.77,3920.51"/><polygon points="1453.7,3950.66 1435.43,3982.31 1471.97,3982.31"/><polygon points="1609.2,4069.66 1590.93,4101.31 1627.47,4101.31"/><polygon points="1764.9,4181.66 1746.63,4213.31 1783.17,4213.31"/><polygon points="1920.3,4271.66 1902.03,4303.31 1938.57,4303.31"/></g>
<g stroke="#edb120" stroke-width="9.45" fill="none"><polyline points="828.4,3587.5 983.9,3716.5 1139.5,3812 1298.5,3912.8 1453.7,3987 1609.2,4051.5 1764.9,4190.5 1920.3,4293.5"/><polygon points="828.4,3565.66 810.13,3597.31 846.67,3597.31"/><polygon points="983.9,3694.66 965.63,3726.31 1002.17,3726.31"/><polygon points="1139.5,3790.16 1121.23,3821.81 1157.77,3821.81"/><polygon points="1298.5,3890.96 1280.23,3922.61 1316.77,3922.61"/><polygon points="1453.7,3965.16 1435.43,3996.81 1471.97,3996.81"/><polygon points="1609.2,4029.66 1590.93,4061.31 1627.47,4061.31"/><polygon points="1764.9,4168.66 1746.63,4200.31 1783.17,4200.31"/><polygon points="1920.3,4271.66 1902.03,4303.31 1938.57,4303.31"/></g>
<g stroke="#ff00ff" stroke-width="9.45" fill="none"><polyline points="828.4,3604 983.9,3729.5 1139.5,3847.5 1298.5,3959.5 1453.7,3992.3 1609.2,4103.5 1764.9,4199.5 1920.3,4292.5"/><polygon points="828.4,3582.16 810.13,3613.81 846.67,3613.81"/><polygon points="983.9,3707.66 965.63,3739.31 1002.17,3739.31"/><polygon points="1139.5,3825.66 1121.23,3857.31 1157.77,3857.31"/><polygon points="1298.5,3937.66 1280.23,3969.31 1316.77,3969.31"/><polygon points="1453.7,3970.46 1435.43,4002.11 1471.97,4002.11"/><polygon points="1609.2,4081.66 1590.93,4113.31 1627.47,4113.31"/><polygon points="1764.9,4177.66 1746.63,4209.31 1783.17,4209.31"/><polygon points="1920.3,4270.66 1902.03,4302.31 1938.57,4302.31"/></g>
<rect x="2038" y="3304.3" width="311" height="487.3" fill="#fff" stroke="#262626" stroke-width="3.8"/>
<g stroke="#00ff00" stroke-width="9.45" fill="none"><path d="M2070 3352.5H2237"/><polygon points="2152.3,3330.66 2134.03,3362.31 2170.57,3362.31"/></g>
<text x="2252.02" y="3376" font-size="66" fill="#000" stroke="#000" stroke-width="0.6" stroke-linejoin="round">B1</text>
<g stroke="#0000ff" stroke-width="9.45" fill="none"><path d="M2070 3431.2H2237"/><polygon points="2152.3,3409.36 2134.03,3441.01 2170.57,3441.01"/></g>
<text x="2252.02" y="3454.7" font-size="66" fill="#000" stroke="#000" stroke-width="0.6" stroke-linejoin="round">B2</text>
<g stroke="#000000" stroke-width="9.45" fill="none"><path d="M2070 3509.3H2237"/><polygon points="2152.3,3487.46 2134.03,3519.11 2170.57,3519.11"/></g>
<text x="2252.02" y="3532.8" font-size="66" fill="#000" stroke="#000" stroke-width="0.6" stroke-linejoin="round">B3</text>
<g stroke="#ff0000" stroke-width="9.45" fill="none"><path d="M2070 3587.5H2237"/><polygon points="2152.3,3565.66 2134.03,3597.31 2170.57,3597.31"/></g>
<text x="2252.02" y="3611" font-size="66" fill="#000" stroke="#000" stroke-width="0.6" stroke-linejoin="round">B4</text>
<g stroke="#edb120" stroke-width="9.45" fill="none"><path d="M2070 3665.6H2237"/><polygon points="2152.3,3643.76 2134.03,3675.41 2170.57,3675.41"/></g>
<text x="2252.02" y="3689.1" font-size="66" fill="#000" stroke="#000" stroke-width="0.6" stroke-linejoin="round">G</text>
<g stroke="#ff00ff" stroke-width="9.45" fill="none"><path d="M2070 3744H2237"/><polygon points="2152.3,3722.16 2134.03,3753.81 2170.57,3753.81"/></g>
<text x="2252.02" y="3767.5" font-size="66" fill="#000" stroke="#000" stroke-width="0.6" stroke-linejoin="round">E</text>
</svg>
</body></html>
